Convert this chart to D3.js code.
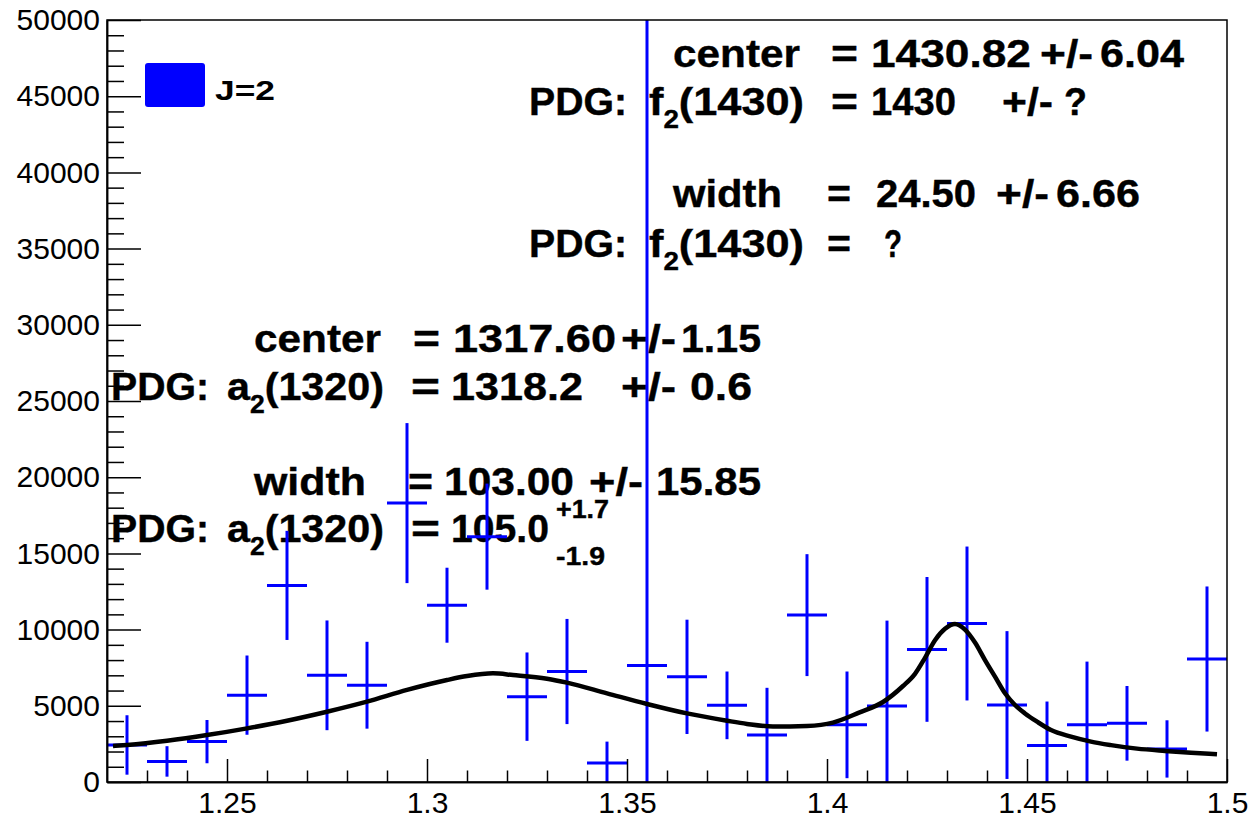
<!DOCTYPE html>
<html>
<head>
<meta charset="utf-8">
<script src="https://cdn.jsdelivr.net/npm/d3@7"></script>
<style>
  html, body { margin: 0; padding: 0; background: #fff; }
  svg { display: block; }
  text { font-family: "Liberation Sans", Arial, Helvetica, sans-serif; }
</style>
</head>
<body>
<svg id="chart" width="1251" height="819"></svg>
<script>
// ---------------- data ----------------
const binCenters = [1.225, 1.235, 1.245, 1.255, 1.265, 1.275, 1.285, 1.295, 1.305, 1.315,
                    1.325, 1.335, 1.345, 1.355, 1.365, 1.375, 1.385, 1.395, 1.405, 1.415,
                    1.425, 1.435, 1.445, 1.455, 1.465, 1.475, 1.485, 1.495];
const binValues  = [2430, 1350, 2650, 5700, 12900, 7000, 6350, 18300, 11600, 16100,
                    5600, 7250, 1250, 7650, 6900, 5030, 3080, 10950, 3750, 4990,
                    8700, 10400, 5050, 2400, 3750, 3850, 2170, 8070];
const binErrors  = [1950, 1000, 1420, 2600, 3580, 3600, 2850, 5250, 2460, 3480,
                    2900, 3450, 1400, 45000, 3750, 2220, 3100, 4000, 3500, 5600,
                    4750, 5050, 4850, 2880, 4150, 2450, 1880, 4760];
const binWidth = 0.01;

const fitX = [1.2215, 1.225, 1.235, 1.245, 1.255, 1.265, 1.275, 1.285, 1.295, 1.305,
              1.31, 1.3165, 1.3215, 1.33, 1.335, 1.345, 1.355, 1.365, 1.375, 1.38,
              1.3865, 1.395, 1.4015, 1.408, 1.414, 1.419, 1.422, 1.4245, 1.427, 1.4295,
              1.432, 1.4345, 1.437, 1.4395, 1.442, 1.4445, 1.447, 1.4495, 1.4525, 1.456,
              1.461, 1.466, 1.471, 1.4775, 1.4845, 1.491, 1.4975];
const fitY = [2360, 2430, 2710, 3080, 3520, 4020, 4610, 5270, 6040, 6690,
              6950, 7130, 7020, 6780, 6520, 5820, 5120, 4500, 4020, 3810,
              3640, 3680, 3900, 4550, 5250, 6300, 7100, 8150, 9300, 10050,
              10370, 10000, 9150, 8000, 6910, 5820, 5050, 4500, 3960, 3410,
              2980, 2650, 2420, 2190, 2040, 1925, 1815];

const xMajorTicks = [1.25, 1.3, 1.35, 1.4, 1.45, 1.5];
const xTickLabels = ["1.25", "1.3", "1.35", "1.4", "1.45", "1.5"];
const yMajorTicks = [0, 5000, 10000, 15000, 20000, 25000, 30000, 35000, 40000, 45000, 50000];
const yTickLabels = ["0", "5000", "10000", "15000", "20000", "25000", "30000", "35000", "40000", "45000", "50000"];
const legendLabel = "J=2";

// ---------------- layout ----------------
const L = 107, R = 1227, T = 20, B = 782;
const svg = d3.select("#chart");
const x = d3.scaleLinear().domain([1.22, 1.5]).range([L, R]);
const y = d3.scaleLinear().domain([0, 50000]).range([B, T]);

svg.append("defs").append("clipPath").attr("id", "plotclip")
  .append("rect").attr("x", L).attr("y", T).attr("width", R - L).attr("height", B - T);

// ---------------- annotation text ----------------
function drawToken(tok) {
  const [str, x0, x1, base, size] = tok;
  const t = svg.append("text")
    .attr("x", x0).attr("y", base)
    .attr("font-size", size || 39)
    .attr("font-weight", "bold")
    .attr("fill", "#000")
    .attr("stroke", "#000").attr("stroke-width", 0.4)
    .attr("textLength", x1 - x0)
    .attr("lengthAdjust", "spacingAndGlyphs")
    .style("white-space", "pre");
  const m = str.match(/^(.*?)_(\d)(.*)$/);
  if (m) {
    t.append("tspan").text(m[1]);
    t.append("tspan").attr("font-size", 25).attr("dy", 13).text(m[2]);
    t.append("tspan").attr("dy", -13).text(m[3]);
  } else {
    t.text(str);
  }
}
const annotations = [
  ["center", 673, 800, 67], ["=", 831, 858, 67], ["1430.82", 871, 1031, 67], ["+/-", 1040, 1093, 67], ["6.04", 1100, 1184, 67],
  ["PDG:", 529, 627, 115], ["f_2(1430)", 649, 804, 115], ["=", 831, 858, 115], ["1430", 871, 956, 115], ["+/-", 1002, 1053, 115], ["?", 1064, 1087, 115],
  ["width", 673, 782, 207], ["=", 827, 851, 207], ["24.50", 876, 976, 207], ["+/-", 996, 1049, 207], ["6.66", 1056, 1140, 207],
  ["PDG:", 529, 627, 257], ["f_2(1430)", 649, 804, 257], ["=", 827, 851, 257], ["?", 884, 902, 257],
  ["center", 254, 381, 352], ["=", 413, 440, 352], ["1317.60", 453, 616, 352], ["+/-", 621, 676, 352], ["1.15", 681, 761, 352],
  ["PDG:", 111, 209, 400], ["a_2(1320)", 227, 384, 400], ["=", 411, 440, 400], ["1318.2", 451, 583, 400], ["+/-", 621, 676, 400], ["0.6", 690, 752, 400],
  ["width", 254, 366, 495], ["=", 408, 433, 495], ["103.00", 444, 574, 495], ["+/-", 589, 643, 495], ["15.85", 656, 761, 495],
  ["PDG:", 111, 209, 542], ["a_2(1320)", 227, 384, 542], ["=", 411, 440, 542], ["105.0", 451, 549, 542],
  ["+1.7", 556, 609, 518, 25], ["-1.9", 556, 605, 565, 25]
];
annotations.forEach(drawToken);

// ---------------- data: error bars ----------------
const gData = svg.append("g").attr("clip-path", "url(#plotclip)");
const bins = binCenters.map((c, i) => ({ c, v: binValues[i], e: binErrors[i] }));
gData.selectAll("line.h").data(bins).join("line")
  .attr("class", "h")
  .attr("x1", d => x(d.c - binWidth / 2)).attr("x2", d => x(d.c + binWidth / 2))
  .attr("y1", d => y(d.v)).attr("y2", d => y(d.v))
  .attr("stroke", "#0000ff").attr("stroke-width", 3);
gData.selectAll("line.v").data(bins).join("line")
  .attr("class", "v")
  .attr("x1", d => x(d.c)).attr("x2", d => x(d.c))
  .attr("y1", d => y(Math.max(0, d.v - d.e))).attr("y2", d => y(d.v + d.e))
  .attr("stroke", "#0000ff").attr("stroke-width", 3);

// ---------------- fit curve ----------------
const fitPts = fitX.map((v, i) => [v, fitY[i]]);
gData.append("path")
  .datum(fitPts)
  .attr("d", d3.line().x(d => x(d[0])).y(d => y(d[1])).curve(d3.curveMonotoneX))
  .attr("fill", "none").attr("stroke", "#000").attr("stroke-width", 4.5)
  .attr("stroke-linejoin", "round");

// ---------------- axes ----------------
const yMinor = d3.range(0, 50001, 1000).filter(v => v % 5000 !== 0);
const xMinor = d3.range(123, 150, 1).map(v => v / 100).filter(v => Math.round(v * 100) % 5 !== 0);

svg.append("g").attr("transform", `translate(0,${B})`)
  .call(d3.axisBottom(x).tickValues(xMajorTicks).tickFormat((d, i) => xTickLabels[i])
    .tickSizeInner(-23).tickSizeOuter(0).tickPadding(10));
svg.append("g").attr("transform", `translate(0,${B})`)
  .call(d3.axisBottom(x).tickValues(xMinor).tickFormat("").tickSizeInner(-11.5).tickSizeOuter(0));

svg.append("g").attr("transform", `translate(${L},0)`)
  .call(d3.axisLeft(y).tickValues(yMajorTicks).tickFormat((d, i) => yTickLabels[i])
    .tickSizeInner(-34).tickSizeOuter(0).tickPadding(7));
svg.append("g").attr("transform", `translate(${L},0)`)
  .call(d3.axisLeft(y).tickValues(yMinor).tickFormat("").tickSizeInner(-17).tickSizeOuter(0));

svg.selectAll(".tick line").attr("stroke", "#000").attr("stroke-width", 1.5);
svg.selectAll(".domain").attr("stroke", "#000").attr("stroke-width", 1.5);
svg.selectAll(".tick text").attr("font-size", 30).attr("fill", "#000")
  .attr("font-family", "'Liberation Sans', Arial, sans-serif");

// frame
svg.append("rect").attr("x", L).attr("y", T).attr("width", R - L).attr("height", B - T)
  .attr("fill", "none").attr("stroke", "#000").attr("stroke-width", 1.5);

// ---------------- legend ----------------
svg.append("rect").attr("x", 145).attr("y", 63).attr("width", 60).attr("height", 44)
  .attr("rx", 3).attr("fill", "#0000ff");
svg.append("text").attr("x", 215).attr("y", 100).attr("font-size", 28)
  .attr("font-weight", "bold").attr("fill", "#000")
  .attr("textLength", 60).attr("lengthAdjust", "spacingAndGlyphs")
  .text(legendLabel);
</script>
</body>
</html>
